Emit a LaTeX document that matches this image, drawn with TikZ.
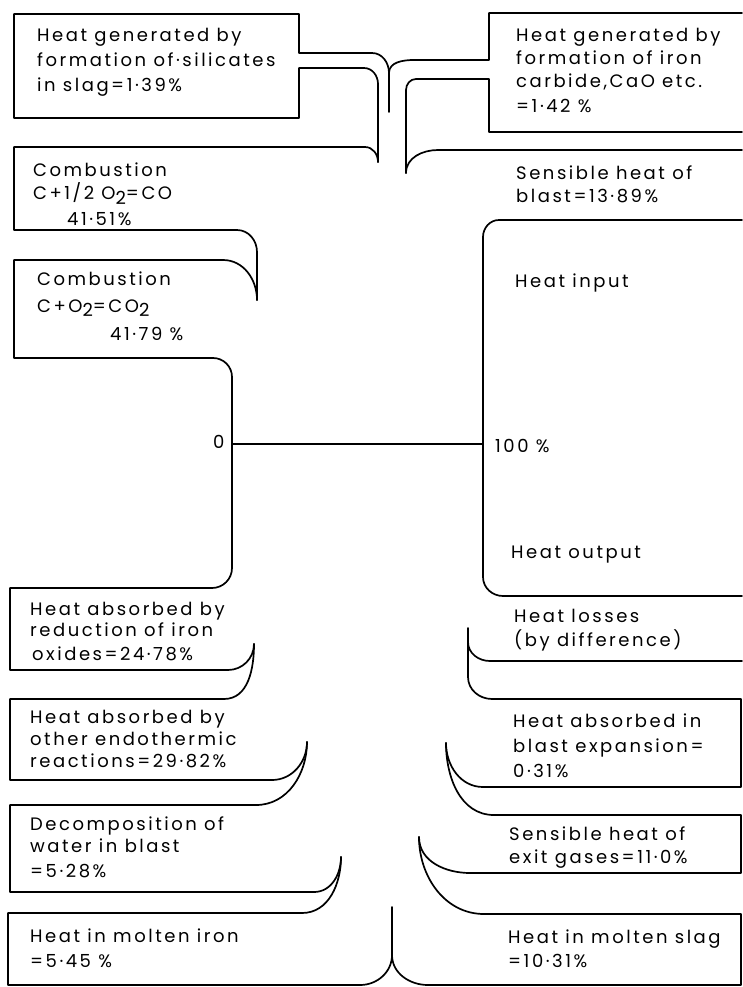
\documentclass[tikz,border=0pt]{standalone}
\usepackage{fontspec}
\setmainfont{Poppins}[LetterSpace=14]
\newcommand\lblfont{\fontsize{18}{20}\selectfont}
\newcommand\lowtwo{\raisebox{-0.45ex}{2}}
\begin{document}
\begin{tikzpicture}[x=1pt,y=-1pt,
  flow/.style={line width=1.7pt, line join=round, line cap=round},
  lbl/.style={anchor=base west, inner sep=0pt, font=\lblfont}]
\useasboundingbox (0,0) rectangle (742,987);
% named cusp points
\coordinate (cA) at (378,162);
\coordinate (cB) at (406,173);
\coordinate (cC) at (257,300);
\coordinate (cD) at (254,644);
\coordinate (cE) at (307,742);
\coordinate (cF) at (341,857);
\coordinate (cG) at (419,837);
\coordinate (cH) at (446,743);
\coordinate (yT) at (389,73);
\coordinate (yS) at (389,112);
\coordinate (bT) at (392,907);
\coordinate (bS) at (392,955);
\coordinate (z0) at (232,444);
\coordinate (z1) at (483,444);

% input side, top
\draw[flow] (372,53) -- (299,53) -- (299,14) -- (14,14) -- (14,118) -- (299,118) -- (299,68) -- (364,68) to[out=0,in=90] (378,84) -- (cA);
\draw[flow] (372,53) to[out=0,in=90] (yT) -- (yS);
\draw[flow] (yT) to[out=90,in=180] (414,60) -- (489,60) -- (489,13) -- (742,13);
\draw[flow] (742,132) -- (489,132) -- (489,79) -- (416,79) to[out=180,in=90] (406,90) -- (cB);
\draw[flow] (742,150) -- (438,150) to[out=180,in=90] (cB);
\draw[flow] (742,220) -- (499,220) to[out=180,in=90] (483,237) -- (483,577) to[out=-90,in=180] (503,596) -- (742,596);
\draw[flow] (cA) to[out=90,in=0] (365,147) -- (14,147) -- (14,230) -- (237,230) to[out=0,in=90] (257,252) -- (cC);
\draw[flow] (cC) to[out=90,in=0] (223,260) -- (14,260) -- (14,358) -- (213,358) to[out=0,in=90] (232,377) -- (232,568) to[out=-90,in=0] (212,588) -- (10,588) -- (10,670) -- (228,670) to[out=0,in=-90] (cD);
% output side, left
\draw[flow] (cD) to[out=-90,in=0] (224,699) -- (10,699) -- (10,780) -- (272,780) to[out=0,in=-90] (cE);
\draw[flow] (cE) to[out=-90,in=0] (256,805) -- (10,805) -- (10,892) -- (314,892) to[out=0,in=-90] (cF);
\draw[flow] (cF) to[out=-90,in=0] (302,913) -- (8,913) -- (8,985) -- (360,985) to[out=0,in=-90] (bS) -- (bT);
% output side, right
\draw[flow] (bS) to[out=-90,in=180] (428,985) -- (741,985) -- (741,914) -- (484,914) to[out=180,in=-90] (cG);
\draw[flow] (cG) to[out=-90,in=180] (470,873) -- (741,873) -- (741,815) -- (494,815) to[out=180,in=-90] (cH);
\draw[flow] (cH) to[out=-90,in=180] (483,787) -- (741,787) -- (741,699) -- (492,699) to[out=180,in=-90] (468,677) -- (468,628);
\draw[flow] (742,661) -- (490,661) to[out=180,in=-90] (468,642);
% scale line
\draw[flow] (z0) -- (z1);

% labels
\node[lbl] (s1) at (37,42) {Heat generated by};
\node[lbl] (s2) at (37,67) {formation of·silicates};
\node[lbl] (s3) at (37,92) {in slag=1·39\%};
\node[lbl] (k1) at (516,42) {Heat generated by};
\node[lbl] (k2) at (516,65) {formation of iron};
\node[lbl] (k3) at (516,88) {carbide,CaO etc.};
\node[lbl] (k4) at (516,113) {=1·42 \%};
\node[lbl] (b1) at (516,180) {Sensible heat of};
\node[lbl] (b2) at (516,203) {blast=13·89\%};
\node[lbl] (c1) at (33,177) {Combustion};
\node[lbl] (c2) at (33,200) {C+1/2 O\lowtwo=CO};
\node[lbl] (c3) at (67,225) {41·51\%};
\node[lbl] (d1) at (37,285) {Combustion};
\node[lbl] (d2) at (37,312) {C+O\lowtwo=CO\lowtwo};
\node[lbl] (d3) at (110,340) {41·79 \%};
\node[lbl] (hi) at (515,287) {Heat input};
\node[lbl] (ho) at (511,558) {Heat output};
\node[lbl] (p0) at (213,448) {0};
\node[lbl] (p100) at (495,452) {100 \%};
\node[lbl] (r1) at (30,615) {Heat absorbed by};
\node[lbl] (r2) at (30,636) {reduction of iron};
\node[lbl] (r3) at (32,660) {oxides=24·78\%};
\node[lbl] (e1) at (30,723) {Heat absorbed by};
\node[lbl] (e2) at (30,745) {other endothermic};
\node[lbl] (e3) at (30,767) {reactions=29·82\%};
\node[lbl] (w1) at (30,830) {Decomposition of};
\node[lbl] (w2) at (30,852) {water in blast};
\node[lbl] (w3) at (30,877) {=5·28\%};
\node[lbl] (m1) at (30,942) {Heat in molten iron};
\node[lbl] (m2) at (30,967) {=5·45 \%};
\node[lbl] (l1) at (514,622) {Heat losses};
\node[lbl] (l2) at (514,646) {(by difference)};
\node[lbl] (x1) at (513,727) {Heat absorbed in};
\node[lbl] (x2) at (513,752) {blast expansion=};
\node[lbl] (x3) at (513,777) {0·31\%};
\node[lbl] (g1) at (509,840) {Sensible heat of};
\node[lbl] (g2) at (509,863) {exit gases=11·0\%};
\node[lbl] (n1) at (508,943) {Heat in molten slag};
\node[lbl] (n2) at (508,967) {=10·31\%};
\end{tikzpicture}
\end{document}
